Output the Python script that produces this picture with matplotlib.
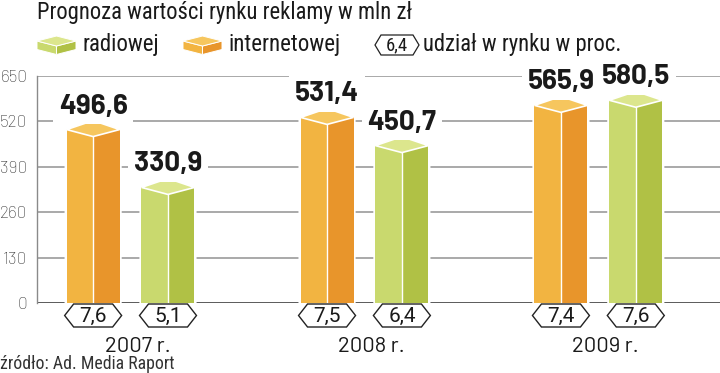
import matplotlib
matplotlib.use('Agg')
import matplotlib.pyplot as plt
from matplotlib.patches import Polygon
import matplotlib.transforms as mtransforms

# ---- data ----
years = ['2007 r.', '2008 r.', '2009 r.']
internet = [496.6, 531.4, 565.9]
radio = [330.9, 450.7, 580.5]
internet_share = [7.6, 7.5, 7.4]
radio_share = [5.1, 6.4, 7.6]
yticks = [0, 130, 260, 390, 520, 650]
title = 'Prognoza wartości rynku reklamy w mln zł'
legend_labels = ['radiowej', 'internetowej', 'udział w rynku w proc.']
legend_share = 6.4
source = 'źródło: Ad. Media Raport'

# ---- style ----
W, H = 720, 373
OR = dict(light='#F2B441', dark='#E8952B', top='#F6C65E')
GR = dict(light='#C9D96E', dark='#B0C145', top='#DCE68D')
COND = ['Roboto Condensed', 'Barlow Semi Condensed', 'DejaVu Sans']
NUM = ['Barlow', 'Roboto', 'DejaVu Sans']
HEXF = ['Roboto', 'DejaVu Sans']

def fmt(v):
    return f'{v:.1f}'.replace('.', ',')

fig = plt.figure(figsize=(W / 100, H / 100), dpi=100)
renderer = fig.canvas.get_renderer()

def fit(t, width_px):
    w = t.get_window_extent(renderer).width
    if w > 0:
        t.set_fontsize(t.get_fontsize() * width_px / w)
    return t

def fitted_size(text, width_px, **kw):
    t = fig.text(0, 0, text, fontsize=20, **kw)
    w = t.get_window_extent(renderer).width
    t.remove()
    return 20 * width_px / w

VAL_FS = fitted_size(fmt(internet[0]), 69, family=NUM, fontweight='bold')
YEAR_FS = fitted_size(years[2], 67, family=NUM)
HEX_FS = 15

ax = fig.add_axes([37 / W, (H - 303) / H, (W - 37) / W, 227 / H])
ax.set_ylim(0, 650)
ax.set_xlim(-0.40, 2.52)
upx = 650 / 227          # data units per pixel (y)
xpx = 2.92 / (W - 37)    # data units per pixel (x)

ax.set_yticks(yticks)
ax.set_yticklabels([str(t) for t in yticks], family=NUM, fontweight='light', fontsize=12.5,
                   color='#333333')
ax.set_xticks([])
ax.tick_params(axis='y', length=0, pad=7)
ax.grid(axis='y', color='#929292', lw=1.1, zorder=0)
ax.set_axisbelow(True)
for s in ['top', 'right', 'bottom']:
    ax.spines[s].set_visible(False)
ax.spines['left'].set_color('#8a8a8a')
ax.spines['left'].set_linewidth(1.0)
ax.axhline(0, color='#555555', lw=2.0, zorder=1.5)

hw = 26.5 * xpx
du = 9 * upx
dd = 7 * upx
off = 0.16
blend = mtransforms.blended_transform_factory(ax.transData, ax.transAxes)

def bar(c, v, col):
    sil = [(c - hw, 0), (c - hw, v), (c, v + du), (c + hw, v), (c + hw, 0)]
    ax.add_patch(Polygon(sil, closed=True, fc='white', ec='white', lw=3, zorder=3))
    ax.add_patch(Polygon([(c - hw, 0), (c - hw, v), (c, v), (c, 0)], closed=True,
                         fc=col['light'], ec='none', zorder=4))
    ax.add_patch(Polygon([(c, 0), (c, v), (c + hw, v), (c + hw, 0)], closed=True,
                         fc=col['dark'], ec='none', zorder=4))
    ax.plot([c, c], [0, v - dd], color='white', lw=1.0, zorder=4.5)
    ax.add_patch(Polygon([(c - hw, v), (c, v + du), (c + hw, v), (c, v - dd)], closed=True,
                         fc=col['top'], ec='white', lw=1.2, zorder=5))
    ax.text(c, v + du + 7 * upx, fmt(v), ha='center', va='baseline', family=NUM,
            fontweight='bold', fontsize=VAL_FS, color='#1a1a1a', zorder=6,
            bbox=dict(fc='white', ec='none', pad=4))

def hexlabel(c, val, trans=blend, yc=-12.5 / 227, hx=28.5 * xpx, tip=9 * xpx, hy=11.5 / 227):
    pts = [(c - hx, yc), (c - hx + tip, yc + hy), (c + hx - tip, yc + hy),
           (c + hx, yc), (c + hx - tip, yc - hy), (c - hx + tip, yc - hy)]
    ax.add_patch(Polygon(pts, closed=True, fc='white', ec='#222222', lw=1.0,
                         transform=trans, clip_on=False, zorder=6))
    ax.text(c, yc - 0.5 / 227, fmt(val), ha='center', va='center', family=HEXF, fontsize=HEX_FS,
            color='#1a1a1a', transform=trans, clip_on=False, zorder=7)

for i, yr in enumerate(years):
    ci = i - off
    cr = i + off
    bar(ci, internet[i], OR)
    bar(cr, radio[i], GR)
    hexlabel(ci, internet_share[i])
    hexlabel(cr, radio_share[i])
    ax.text(i + 0.03, -44 / 227, yr, ha='center', va='center', family=NUM, fontsize=YEAR_FS,
            color='#1a1a1a', transform=blend, clip_on=False)

# ---- title, legend, source in figure pixel coords ----
def F(x, y):
    return (x / W, 1 - y / H)

fit(fig.text(*F(37, 18.5), title, ha='left', va='baseline', family=COND, fontsize=13.5,
             color='#1a1a1a'), 375)

def cube(x0, col):
    x1, xm = x0 + 39, x0 + 19.5
    top = [F(x0, 41), F(xm, 36), F(x1, 41), F(xm, 46)]
    left = [F(x0, 41), F(xm, 46), F(xm, 54.5), F(x0, 49.5)]
    right = [F(xm, 46), F(x1, 41), F(x1, 49.5), F(xm, 54.5)]
    for pts, c in [(left, col['light']), (right, col['dark']), (top, col['top'])]:
        fig.add_artist(Polygon(pts, closed=True, fc=c, ec='white', lw=0.7, transform=fig.transFigure))

cube(37, GR)
fit(fig.text(*F(83, 50.5), legend_labels[0], ha='left', va='baseline', family=COND, fontsize=15,
             color='#1a1a1a'), 77)
cube(183, OR)
fit(fig.text(*F(228, 50.5), legend_labels[1], ha='left', va='baseline', family=COND, fontsize=15,
             color='#1a1a1a'), 112)
# legend hexagon
hx0, hx1, hy0, hy1, hyc = 375, 419, 35, 55, 45
pts = [F(hx0, hyc), F(hx0 + 6, hy0), F(hx1 - 6, hy0), F(hx1, hyc), F(hx1 - 6, hy1), F(hx0 + 6, hy1)]
fig.add_artist(Polygon(pts, closed=True, fc='white', ec='#222222', lw=0.9, transform=fig.transFigure))
fig.text(*F(397, 45.5), fmt(legend_share), ha='center', va='center', family=COND, fontsize=13.5,
         color='#1a1a1a')
fit(fig.text(*F(423, 51), legend_labels[2], ha='left', va='baseline', family=COND, fontsize=15,
             color='#1a1a1a'), 199)

fit(fig.text(*F(0, 369), source, ha='left', va='baseline', family=COND, fontsize=12.5,
             color='#333333'), 175)

fig.savefig('out.png', dpi=100)
